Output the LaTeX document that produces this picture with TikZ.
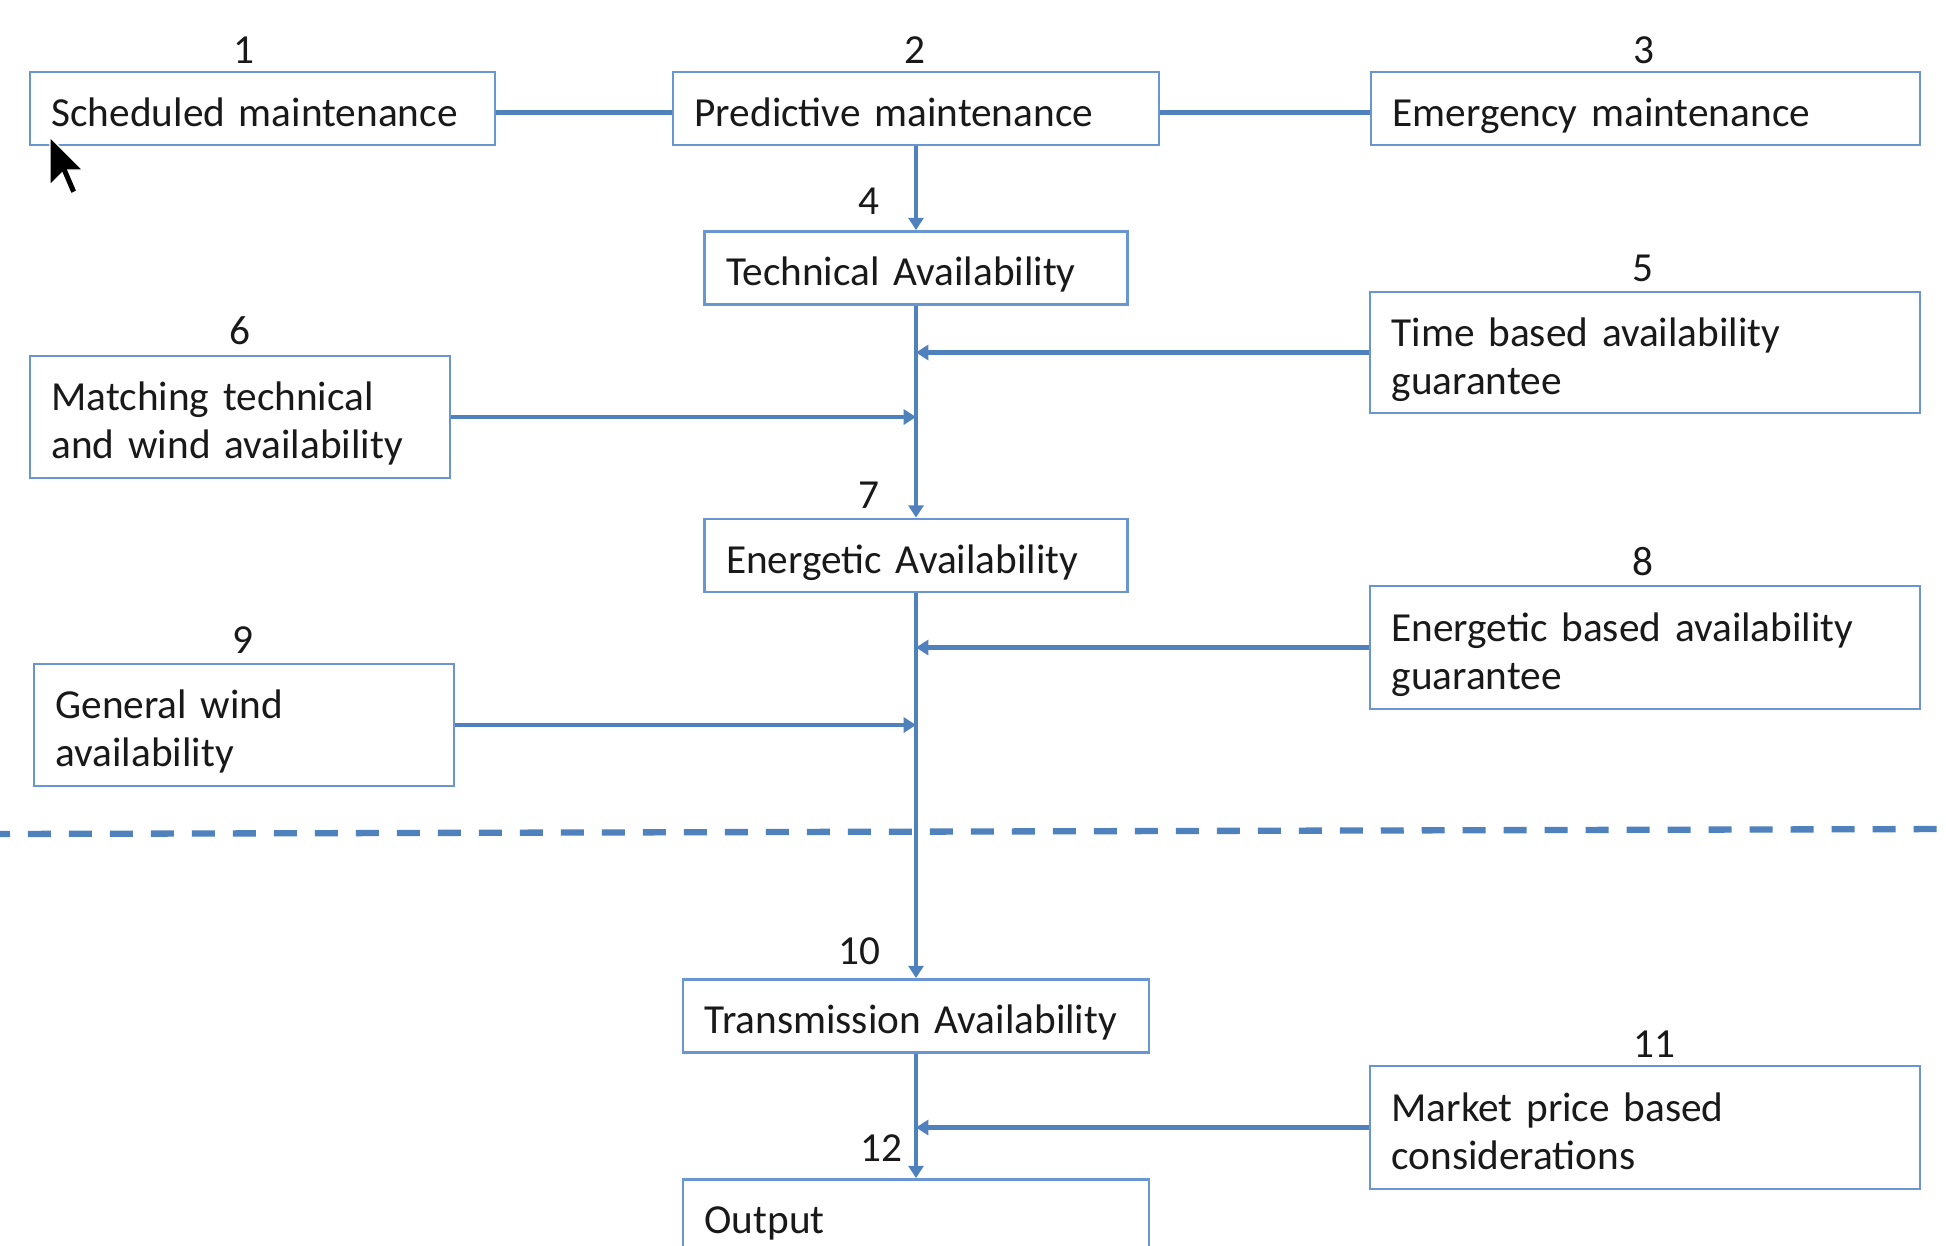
\documentclass[tikz,border=0pt]{standalone}
\usepackage{fontspec}
\setmainfont{Carlito}
\usetikzlibrary{arrows.meta}
\definecolor{linec}{RGB}{79,129,189}
\definecolor{boxc}{RGB}{105,150,210}
\definecolor{txtc}{RGB}{25,25,25}
\newcommand\myfs{\fontsize{23.5pt}{27.2pt}\selectfont}
\begin{document}
\begin{tikzpicture}[x=0.02cm,y=-0.02cm,
  bx/.style={draw=boxc, line width=1.6pt, fill=white, inner xsep=0.43cm, inner ysep=0pt,
             align=left, text=txtc, minimum height=1.46cm, font=\myfs,
             execute at begin node={\rule{0pt}{27.2pt}},
             execute at end node={\rule[-7pt]{0pt}{7pt}}},
  num/.style={text=txtc, font=\myfs, inner sep=0pt},
  conn/.style={draw=linec, line width=2.7pt},
  arr/.style={conn, -{Triangle[width=8.5pt,length=7pt]}},
  dashline/.style={draw=linec, line width=3.6pt, dash pattern=on 0.46cm off 0.36cm, dash phase=0.26cm}]
\clip (0,0) rectangle (1946,1245);
\fill[white] (0,0) rectangle (1946,1245);

% boxes
\node[bx, text width=8.44cm] (b1) at (262.5,108.5) {Scheduled maintenance};
\node[bx, text width=8.86cm] (b2) at (916,108.5) {Predictive maintenance};
\node[bx, text width=10.12cm] (b3) at (1645.5,108.5) {Emergency maintenance};
\node[bx, text width=7.60cm] (b4) at (916,268) {Technical Availability};
\node[bx, text width=10.14cm, minimum height=2.42cm] (b5) at (1645,352.5) {Time based availability\\guarantee};
\node[bx, text width=7.54cm, minimum height=2.44cm] (b6) at (240,417) {Matching technical\\and wind availability};
\node[bx, text width=7.60cm] (b7) at (916,555.5) {Energetic Availability};
\node[bx, text width=10.14cm, minimum height=2.46cm] (b8) at (1645,647.5) {Energetic based availability\\guarantee};
\node[bx, text width=7.54cm, minimum height=2.44cm] (b9) at (244,725) {General wind\\availability};
\node[bx, text width=8.46cm] (b10) at (916,1016) {Transmission Availability};
\node[bx, text width=10.14cm, minimum height=2.46cm] (b11) at (1645,1127.5) {Market price based\\considerations};
\node[bx, text width=8.46cm] (b12) at (916,1216) {Output};

% numbers
\node[num] (n1) at (244,50) {1};
\node[num] (n2) at (915,50) {2};
\node[num] (n3) at (1644,50) {3};
\node[num] (n4) at (869,201) {4};
\node[num] (n5) at (1643,268) {5};
\node[num] (n6) at (240,331) {6};
\node[num] (n7) at (869,495) {7};
\node[num] (n8) at (1643,562) {8};
\node[num] (n9) at (243,640) {9};
\node[num] (n10) at (859,951) {10};
\node[num] (n11) at (1654,1044) {11};
\node[num] (n12) at (881,1148) {12};

% dashed separator
\coordinate (dl) at (0,834);
\coordinate (dr) at (1946,829);
\draw[dashline] (dl) -- (dr);

% connectors
\draw[conn] ([yshift=-0.08cm]b1.east) -- ([yshift=-0.08cm]b2.west);
\draw[conn] ([yshift=-0.08cm]b2.east) -- ([yshift=-0.08cm]b3.west);
\draw[arr] (b2.south) -- (b2.south |- b4.north);
\draw[arr] (b4.south) -- (b4.south |- b7.north);
\draw[arr] (b7.south) -- (b7.south |- b10.north);
\draw[arr] (b10.south) -- (b10.south |- b12.north);
\draw[arr] (b5.west) -- (b5.west -| b4.south);
\draw[arr] (b6.east) -- (b6.east -| b4.south);
\draw[arr] (b8.west) -- (b8.west -| b7.south);
\draw[arr] (b9.east) -- (b9.east -| b7.south);
\draw[arr] (b11.west) -- (b11.west -| b10.south);

% mouse pointer
\fill[black, draw=white, line width=0.8pt, shift={(50,137)}, scale=3]
  (0,0) -- (0,16) -- (4,12) -- (7,19) -- (9,18) -- (6,11) -- (11,11) -- cycle;
\end{tikzpicture}
\end{document}
